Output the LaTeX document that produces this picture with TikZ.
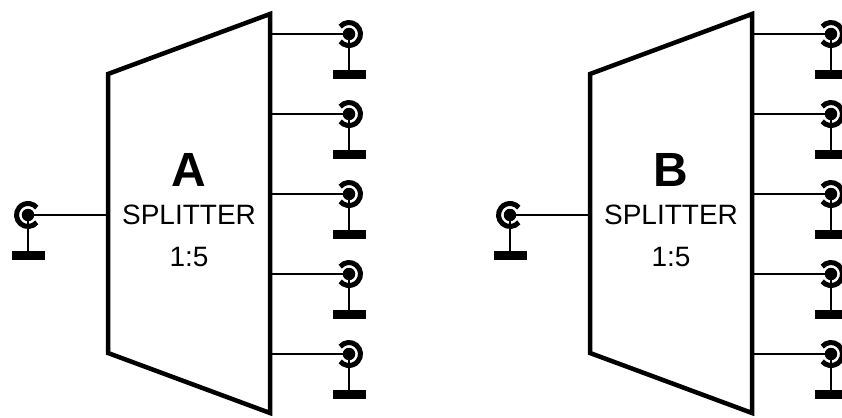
\documentclass[tikz,border=0pt]{standalone}
\usepackage{fontspec}
\setmainfont{Liberation Sans}
\usepackage{tikz}

\tikzset{
  body/.style={draw=black, fill=white, line width=4.5pt, line join=miter},
  wire/.style={draw=black, line width=2.5pt},
  ring/.style={draw=black, line width=5pt},
  pin/.style={circle, fill=black, inner sep=0pt, minimum size=12.5pt},
  foot/.style={rectangle, fill=black, inner sep=0pt, minimum width=33pt, minimum height=9.5pt},
  bigtag/.style={inner sep=0pt, font=\fontsize{48}{48}\selectfont\bfseries},
  smalltag/.style={inner sep=0pt, font=\fontsize{28}{28}\selectfont},
  ratiotag/.style={inner sep=0pt, font=\fontsize{28}{28}\selectfont}
}

\begin{document}
\begin{tikzpicture}[x=1pt, y=-1pt]
            \useasboundingbox (0,0) rectangle (842,417);

            % splitter A
            \draw[body] (108,74) -- (270,14) -- (270,413) -- (108,353) -- cycle;
            \node[bigtag] (taga) at (189,170) {A};
            \node[smalltag] (namea) at (189,215) {SPLITTER};
            \node[ratiotag] (ratioa) at (189,257) {1:5};

            \coordinate (ina) at (108,215);
            \coordinate (outa1) at (270,34);
            \coordinate (outa2) at (270,114);
            \coordinate (outa3) at (270,194);
            \coordinate (outa4) at (270,274);
            \coordinate (outa5) at (270,354);

            \node[pin] (pina0) at (28,215) {};
            \node[pin] (pina1) at (349,34) {};
            \node[pin] (pina2) at (349,114) {};
            \node[pin] (pina3) at (349,194) {};
            \node[pin] (pina4) at (349,274) {};
            \node[pin] (pina5) at (349,354) {};

            \node[foot] (foota0) at (28,255.5) {};
            \node[foot] (foota1) at (349,74.5) {};
            \node[foot] (foota2) at (349,154.5) {};
            \node[foot] (foota3) at (349,234.5) {};
            \node[foot] (foota4) at (349,314.5) {};
            \node[foot] (foota5) at (349,394.5) {};

            \draw[wire] (pina0) -- (ina);
            \draw[wire] (outa1) -- (pina1);
            \draw[wire] (outa2) -- (pina2);
            \draw[wire] (outa3) -- (pina3);
            \draw[wire] (outa4) -- (pina4);
            \draw[wire] (outa5) -- (pina5);

            \draw[wire] (pina0) -- (foota0);
            \draw[wire] (pina1) -- (foota1);
            \draw[wire] (pina2) -- (foota2);
            \draw[wire] (pina3) -- (foota3);
            \draw[wire] (pina4) -- (foota4);
            \draw[wire] (pina5) -- (foota5);

            \draw[ring] (pina0.center) ++(40:11.5) arc (40:320:11.5);
            \draw[ring] (pina1.center) ++(220:11.5) arc (220:500:11.5);
            \draw[ring] (pina2.center) ++(220:11.5) arc (220:500:11.5);
            \draw[ring] (pina3.center) ++(220:11.5) arc (220:500:11.5);
            \draw[ring] (pina4.center) ++(220:11.5) arc (220:500:11.5);
            \draw[ring] (pina5.center) ++(220:11.5) arc (220:500:11.5);

            % splitter B
            \draw[body] (590,74) -- (752,14) -- (752,413) -- (590,353) -- cycle;
            \node[bigtag] (tagb) at (671,170) {B};
            \node[smalltag] (nameb) at (671,215) {SPLITTER};
            \node[ratiotag] (ratiob) at (671,257) {1:5};

            \coordinate (inb) at (590,215);
            \coordinate (outb1) at (752,34);
            \coordinate (outb2) at (752,114);
            \coordinate (outb3) at (752,194);
            \coordinate (outb4) at (752,274);
            \coordinate (outb5) at (752,354);

            \node[pin] (pinb0) at (510,215) {};
            \node[pin] (pinb1) at (831,34) {};
            \node[pin] (pinb2) at (831,114) {};
            \node[pin] (pinb3) at (831,194) {};
            \node[pin] (pinb4) at (831,274) {};
            \node[pin] (pinb5) at (831,354) {};

            \node[foot] (footb0) at (510,255.5) {};
            \node[foot] (footb1) at (831,74.5) {};
            \node[foot] (footb2) at (831,154.5) {};
            \node[foot] (footb3) at (831,234.5) {};
            \node[foot] (footb4) at (831,314.5) {};
            \node[foot] (footb5) at (831,394.5) {};

            \draw[wire] (pinb0) -- (inb);
            \draw[wire] (outb1) -- (pinb1);
            \draw[wire] (outb2) -- (pinb2);
            \draw[wire] (outb3) -- (pinb3);
            \draw[wire] (outb4) -- (pinb4);
            \draw[wire] (outb5) -- (pinb5);

            \draw[wire] (pinb0) -- (footb0);
            \draw[wire] (pinb1) -- (footb1);
            \draw[wire] (pinb2) -- (footb2);
            \draw[wire] (pinb3) -- (footb3);
            \draw[wire] (pinb4) -- (footb4);
            \draw[wire] (pinb5) -- (footb5);

            \draw[ring] (pinb0.center) ++(40:11.5) arc (40:320:11.5);
            \draw[ring] (pinb1.center) ++(220:11.5) arc (220:500:11.5);
            \draw[ring] (pinb2.center) ++(220:11.5) arc (220:500:11.5);
            \draw[ring] (pinb3.center) ++(220:11.5) arc (220:500:11.5);
            \draw[ring] (pinb4.center) ++(220:11.5) arc (220:500:11.5);
            \draw[ring] (pinb5.center) ++(220:11.5) arc (220:500:11.5);

        \end{tikzpicture}
\end{document}
